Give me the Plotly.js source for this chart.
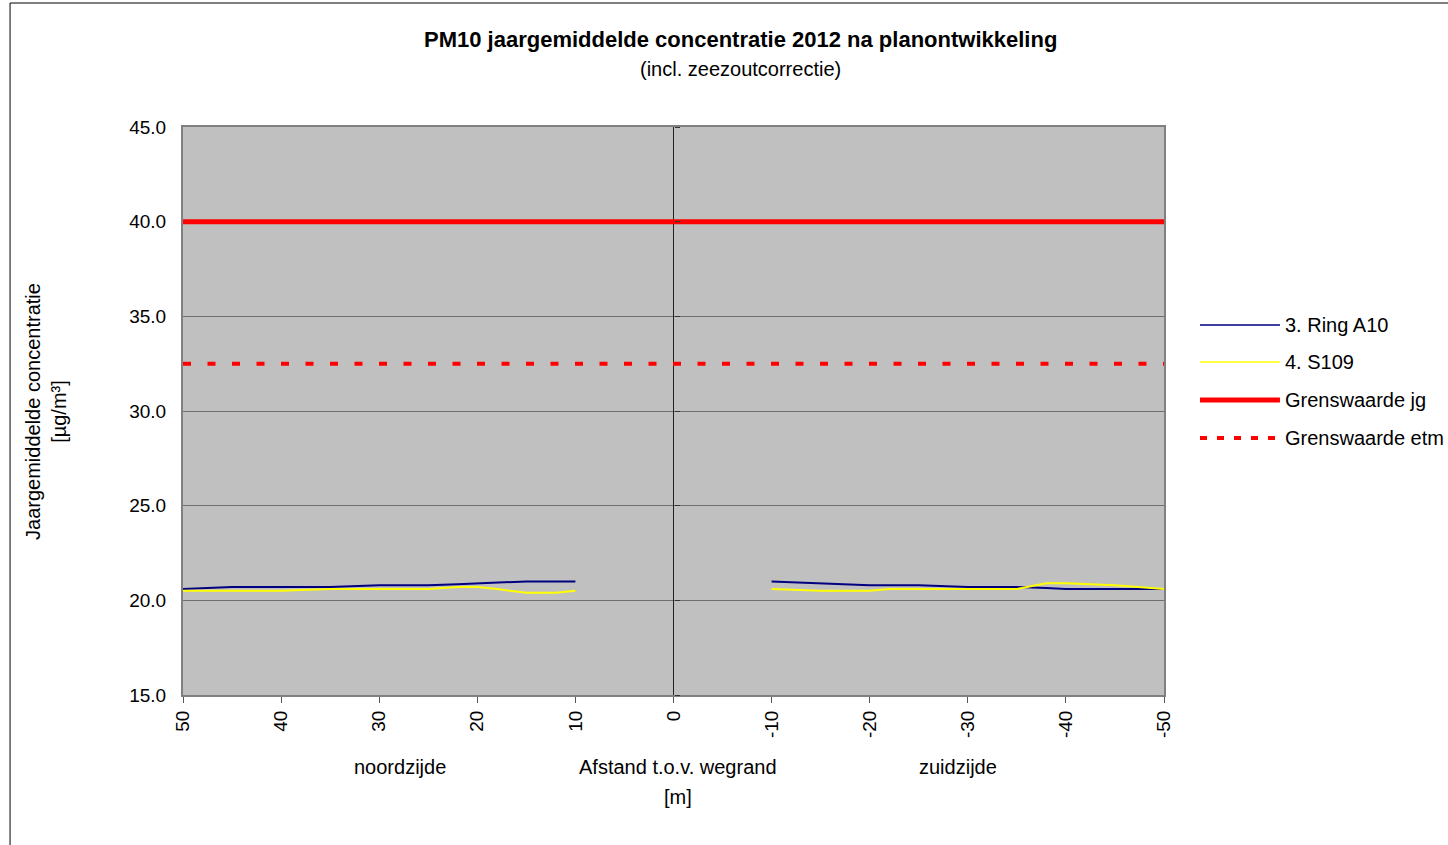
<!DOCTYPE html>
<html>
<head>
<meta charset="utf-8">
<script src="https://cdn.plot.ly/plotly-3.0.1.min.js"></script>
<style>
  html, body { margin: 0; padding: 0; background: #fff; overflow: hidden; }
  #chart { width: 1448px; height: 845px; }
</style>
</head>
<body>
<div id="chart"></div>
<script>
// ---- Data ----
const distances = [50, 45, 40, 35, 30, 25, 22, 20, 18, 15, 12, 10, 0, -10, -15, -20, -22, -25, -30, -35, -38, -40, -45, -50];
const ringA10   = [20.6, 20.7, 20.7, 20.7, 20.8, 20.8, 20.85, 20.9, 20.95, 21.0, 21.0, 21.0, null, 21.0, 20.9, 20.8, 20.8, 20.8, 20.7, 20.7, 20.65, 20.6, 20.6, 20.6];
const s109      = [20.5, 20.5, 20.5, 20.6, 20.6, 20.6, 20.7, 20.7, 20.6, 20.4, 20.4, 20.5, null, 20.6, 20.5, 20.5, 20.6, 20.6, 20.6, 20.6, 20.9, 20.9, 20.8, 20.6];
const limitX    = [50, -50];
const limitJg   = [40, 40];
const limitEtm  = [32.5, 32.5];
const seriesNames = ['3. Ring A10', '4. S109', 'Grenswaarde jg', 'Grenswaarde etm'];
const xTickVals = [50, 40, 30, 20, 10, 0, -10, -20, -30, -40, -50];
const xTickText = ['50', '40', '30', '20', '10', '0', '-10', '-20', '-30', '-40', '-50'];
const yTickVals = [15, 20, 25, 30, 35, 40, 45];
const yTickText = ['15.0', '20.0', '25.0', '30.0', '35.0', '40.0', '45.0'];
const titleText = 'PM10 jaargemiddelde concentratie 2012 na planontwikkeling';
const subtitleText = '(incl. zeezoutcorrectie)';

// ---- Styles ----
const FONT = '"Liberation Sans", Arial, sans-serif';
const styles = [
  { color: '#000080', width: 2, dash: 'solid' },
  { color: '#ffff00', width: 2, dash: 'solid' },
  { color: '#ff0000', width: 5, dash: 'solid' },
  { color: '#ff0000', width: 4, dash: '8px,16.5px' }
];

const traces = [
  { x: distances, y: ringA10, name: seriesNames[0], type: 'scatter', mode: 'lines', connectgaps: false,
    line: { color: styles[0].color, width: styles[0].width } },
  { x: distances, y: s109, name: seriesNames[1], type: 'scatter', mode: 'lines', connectgaps: false,
    line: { color: styles[1].color, width: styles[1].width } },
  { x: limitX, y: limitJg, name: seriesNames[2], type: 'scatter', mode: 'lines', yaxis: 'y2',
    line: { color: styles[2].color, width: styles[2].width } },
  { x: limitX, y: limitEtm, name: seriesNames[3], type: 'scatter', mode: 'lines', yaxis: 'y2',
    line: { color: styles[3].color, width: styles[3].width, dash: styles[3].dash } }
];

// custom legend (wide line samples like the original)
const legendY = [0.6514, 0.5863, 0.5194, 0.4525];
const shapes = [
  { type: 'rect', xref: 'paper', yref: 'paper', x0: -0.1763, x1: 1.6, y0: -0.6, y1: 1.2183,
    line: { color: '#000', width: 1 }, layer: 'below' }
];
const annotations = [];
seriesNames.forEach((n, i) => {
  shapes.push({ type: 'line', xref: 'paper', yref: 'paper', x0: 1.0367, x1: 1.1182, y0: legendY[i], y1: legendY[i],
    line: { color: styles[i].color, width: styles[i].width === 2 ? 1.5 : styles[i].width,
            dash: i === 3 ? '7px,10px' : styles[i].dash } });
  annotations.push({ xref: 'paper', yref: 'paper', x: 1.1213, y: legendY[i], xanchor: 'left', yanchor: 'middle',
    text: n, showarrow: false, font: { family: FONT, size: 20, color: '#000' } });
});

const lblFont = { family: FONT, size: 20, color: '#000' };
annotations.push(
  { xref: 'paper', yref: 'paper', x: 0.5678, y: 1.1532, xanchor: 'center', yanchor: 'middle',
    text: '<b>' + titleText + '</b>', showarrow: false, font: { family: FONT, size: 22, color: '#000' } },
  { xref: 'paper', yref: 'paper', x: 0.5678, y: 1.1021, xanchor: 'center', yanchor: 'middle',
    text: subtitleText, showarrow: false, font: { family: FONT, size: 20, color: '#000' } },
  { xref: 'paper', yref: 'paper', x: 0.2212, y: -0.1268, xanchor: 'center', yanchor: 'middle',
    text: 'noordzijde', showarrow: false, font: lblFont },
  { xref: 'paper', yref: 'paper', x: 0.7900, y: -0.1268, xanchor: 'center', yanchor: 'middle',
    text: 'zuidzijde', showarrow: false, font: lblFont },
  { xref: 'paper', yref: 'paper', x: 0.5046, y: -0.1268, xanchor: 'center', yanchor: 'middle',
    text: 'Afstand t.o.v. wegrand', showarrow: false, font: lblFont },
  { xref: 'paper', yref: 'paper', x: 0.5046, y: -0.1796, xanchor: 'center', yanchor: 'middle',
    text: '[m]', showarrow: false, font: lblFont },
  { xref: 'paper', yref: 'paper', x: -0.1397, y: 0.5, xanchor: 'center', yanchor: 'middle', textangle: -90,
    text: 'Jaargemiddelde concentratie<br>[µg/m³]', showarrow: false, font: lblFont }
);

const layout = {
  width: 1448, height: 845,
  margin: { l: 183, r: 284, t: 127, b: 150 },
  paper_bgcolor: '#ffffff',
  plot_bgcolor: '#c0c0c0',
  showlegend: false,
  font: { family: FONT, size: 19, color: '#000' },
  xaxis: {
    range: [50, -50],
    tickvals: xTickVals, ticktext: xTickText,
    tickangle: -90,
    ticks: 'outside', ticklen: 6, tickcolor: '#555', tickwidth: 1,
    tickfont: { family: FONT, size: 19, color: '#000' },
    showgrid: false,
    zeroline: true, zerolinecolor: '#222', zerolinewidth: 1.5,
    showline: true, linecolor: '#808080', linewidth: 2, mirror: true
  },
  yaxis: {
    range: [15, 45],
    tickvals: yTickVals, ticktext: yTickText,
    tickfont: { family: FONT, size: 19, color: '#000' },
    ticks: '', ticklabelstandoff: 11,
    showgrid: true, gridcolor: '#6e6e6e', gridwidth: 1,
    zeroline: false,
    showline: true, linecolor: '#808080', linewidth: 2, mirror: true
  },
  yaxis2: {
    range: [15, 45],
    overlaying: 'y', anchor: 'free', position: 0.5, side: 'right',
    tickvals: yTickVals, showticklabels: false,
    ticks: 'outside', ticklen: 5, tickcolor: '#333', tickwidth: 1,
    showgrid: false, zeroline: false, showline: false
  },
  shapes: shapes,
  annotations: annotations
};

Plotly.newPlot('chart', traces, layout, { displayModeBar: false, staticPlot: true });
</script>
</body>
</html>
